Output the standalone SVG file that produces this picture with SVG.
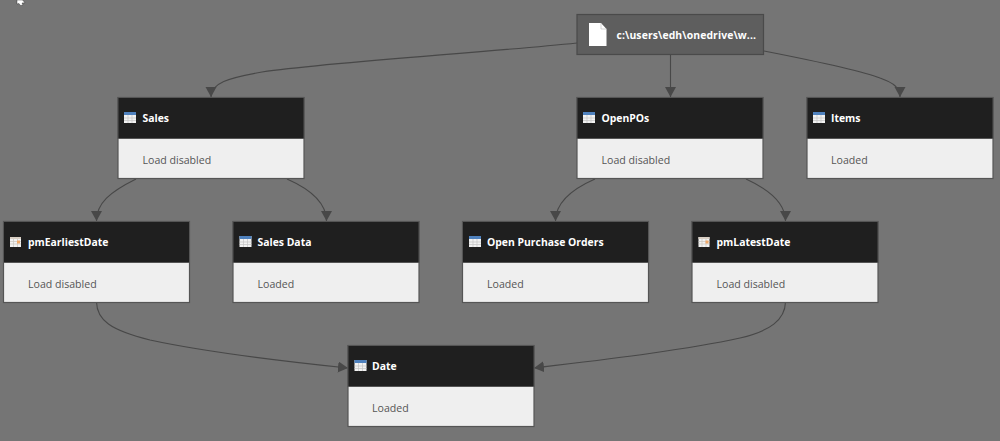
<svg xmlns="http://www.w3.org/2000/svg" width="1000" height="441" viewBox="0 0 1000 441">
<style>
text{font-family:"Open Sans","Noto Sans","Liberation Sans",sans-serif}
.frame{fill:#efefef;stroke:#555;stroke-width:1.2}
.head{fill:#1f1f1f;stroke:#555;stroke-width:1}
.title{font-size:10.4px;font-weight:700;fill:#fff}
.sub{font-size:10.6px;fill:#555}
.edge{fill:none;stroke:#484848;stroke-width:1.1}
</style>
<defs>
<marker id="arrow" markerUnits="userSpaceOnUse" markerWidth="12" markerHeight="12" refX="10" refY="5.500" orient="auto"><path d="M0 0L10 5.500L0 11Z" fill="#484848"/></marker>
<g id="tbl">
<rect width="12" height="11" fill="#f2f2f2"/>
<rect width="12" height="3" fill="#4f81bd"/>
<path d="M4 3V11M8 3V11M0 6H12M0 8.500H12" stroke="#c4c4c4" stroke-width=".7" fill="none"/>
</g>
<g id="param">
<rect width="11" height="10" fill="#f2f2f2"/>
<rect width="11" height="2" fill="#d9cfc4"/>
<path d="M3.500 2V10M7.500 2V10M0 4.500H11M0 7H11" stroke="#c9c4bc" stroke-width=".7" fill="none"/>
<rect x="7" y="3.500" width="3" height="3" fill="#f0a868"/>
</g>
<g id="card">
<rect class="frame" x="0" y="0" width="186" height="81"/>
<rect class="head" x="0" y="0" width="186" height="41"/>
</g>
</defs>
<rect width="1000" height="441" fill="#757575"/>
<path d="M17 0L17 4L19 3.500L20.500 5.500L23 5L22 3L25 2.800L22.500 0Z" fill="#fff" stroke="#222" stroke-width=".4"/>
<g id="connectors">
<path class="edge" marker-end="url(#arrow)" d="M577 43C480 53 330 62 262 72C228 78 211 83 211 97"/>
<path class="edge" marker-end="url(#arrow)" d="M670.500 54V97"/>
<path class="edge" marker-end="url(#arrow)" d="M764 51C810 60 860 70 880 78C894 83 900 88 900 97"/>
<path class="edge" marker-end="url(#arrow)" d="M136 179C110 192 96.500 203 96.500 221"/>
<path class="edge" marker-end="url(#arrow)" d="M287 179C312 190 326.500 203 326.500 221"/>
<path class="edge" marker-end="url(#arrow)" d="M595 179C570 190 555.500 203 555.500 221"/>
<path class="edge" marker-end="url(#arrow)" d="M746 179C770 190 785.500 203 785.500 221"/>
<path class="edge" marker-end="url(#arrow)" d="M96.500 302C97 320 110 330 150 340C210 353 290 362 348 368"/>
<path class="edge" marker-end="url(#arrow)" d="M785.500 302C785 320 770 331 740 338C680 351 600 360 534 368"/>
</g>
<g id="source">
<rect x="577" y="14.500" width="186.500" height="40" fill="#5e5e5e" stroke="#4a4a4a" stroke-width="1.200"/>
<path d="M589 23H601L606.500 29V46H589Z" fill="#fff"/>
<path d="M601 23V29H606.500" fill="none" stroke="#bbb" stroke-width=".6"/>
<text class="title" x="616.500" y="39" letter-spacing=".11">c:\users\edh\onedrive\w...</text>
</g>
<g id="sales"><use href="#card" x="118" y="97.500"/><use href="#tbl" x="124" y="112"/><text class="title" x="142.500" y="122">Sales</text><text class="sub" x="142.500" y="164">Load disabled</text></g>
<g id="openpos"><use href="#card" x="577" y="97.500"/><use href="#tbl" x="583" y="112"/><text class="title" x="601.500" y="122">OpenPOs</text><text class="sub" x="601.500" y="164">Load disabled</text></g>
<g id="items"><use href="#card" x="807" y="97.500"/><use href="#tbl" x="813" y="112"/><text class="title" x="831" y="122">Items</text><text class="sub" x="831" y="164">Loaded</text></g>
<g id="pmearliestdate"><use href="#card" x="3.500" y="221.500"/><use href="#param" x="10" y="237"/><text class="title" x="28" y="246">pmEarliestDate</text><text class="sub" x="28" y="288">Load disabled</text></g>
<g id="salesdata"><use href="#card" x="233" y="221.500"/><use href="#tbl" x="239.500" y="236"/><text class="title" x="257.500" y="246">Sales Data</text><text class="sub" x="257.500" y="288">Loaded</text></g>
<g id="openpurchaseorders"><use href="#card" x="462.500" y="221.500"/><use href="#tbl" x="469" y="236"/><text class="title" x="487" y="246">Open Purchase Orders</text><text class="sub" x="487" y="288">Loaded</text></g>
<g id="pmlatestdate"><use href="#card" x="692" y="221.500"/><use href="#param" x="698.500" y="237"/><text class="title" x="716.500" y="246">pmLatestDate</text><text class="sub" x="716.500" y="288">Load disabled</text></g>
<g id="date"><use href="#card" x="348" y="345.500"/><use href="#tbl" x="354.500" y="360"/><text class="title" x="372" y="370">Date</text><text class="sub" x="372" y="412">Loaded</text></g>
</svg>
